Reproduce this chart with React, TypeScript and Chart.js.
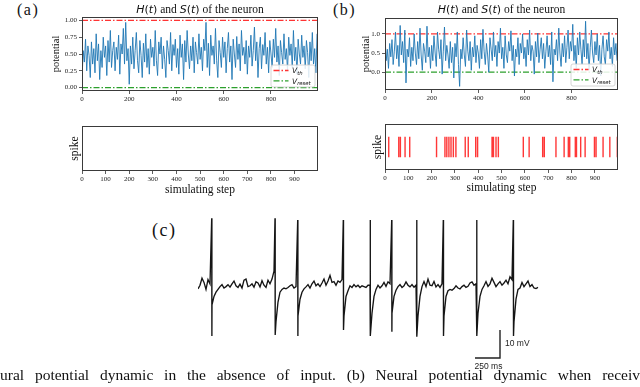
import React, { useEffect, useRef } from "react";
import { Chart, registerables } from "chart.js";
Chart.register(...registerables);

const SERIF = '"Liberation Serif", "Times New Roman", serif';
const MATH = '"DejaVu Sans"';

// ---- data ----
const STEP = 5; // simulating steps between stored samples
const potentialA = [
  0.12, 0.55, 0.38, 0.72, 0.25, 0.62, 0.48, 0.15, 0.68, 0.35, 0.58, 0.22, 0.80, 0.40, 0.65, 0.12, 0.55, 0.30, 0.75, 0.45,
  0.62, 0.18, 0.70, 0.38, 0.85, 0.30, 0.55, 0.68, 0.25, 0.60, 0.42, 0.78, 0.20, 0.65, 0.50, 0.88, 0.35, 0.97, 0.40, 0.58,
  0.05, 0.62, 0.35, 0.75, 0.28, 0.55, 0.82, 0.40, 0.22, 0.70, 0.48, 0.15, 0.66, 0.38, 0.80, 0.30, 0.58, 0.20, 0.72, 0.45,
  0.60, 0.32, 0.85, 0.40, 0.18, 0.68, 0.50, 0.75, 0.28, 0.62, 0.42, 0.15, 0.70, 0.55, 0.35, 0.82, 0.25, 0.64, 0.48, 0.72,
  0.30, 0.58, 0.20, 0.78, 0.45, 0.65, 0.12, 0.70, 0.38, 0.85, 0.50, 0.28, 0.62, 0.40, 0.75, 0.22, 0.68, 0.52, 0.35, 0.80,
  0.42, 0.60, 0.25, 0.72, 0.55, 0.97, 0.30, 0.66, 0.18, 0.78, 0.48, 0.62, 0.35, 0.88, 0.40, 0.15, 0.70, 0.52, 0.30, 0.75,
  0.45, 0.68, 0.22, 0.58, 0.82, 0.38, 0.62, 0.12, 0.72, 0.50, 0.30, 0.76, 0.42, 0.65, 0.25, 0.85, 0.48, 0.60, 0.35, 0.70,
  0.20, 0.62, 0.45, 0.78, 0.32, 0.55, 0.90, 0.40, 0.68, 0.15, 0.58, 0.75, 0.28, 0.64, 0.48, 0.82, 0.35, 0.60, 0.22, 0.70,
  0.50, 0.30, 0.72, 0.45, 0.88, 0.38, 0.62, 0.18, 0.70, 0.52, 0.35, 0.80, 0.42, 0.58, 0.25, 0.75, 0.48, 0.65, 0.30, 0.85,
  0.40, 0.60, 0.20, 0.72, 0.50, 0.35, 0.78, 0.45, 0.62, 0.28, 0.70, 0.52, 0.15, 0.68, 0.40, 0.82, 0.35, 0.58, 0.22, 0.80,
];
const potentialB = [
  0.95, 0.30, 0.60, 0.10, 0.75, 0.40, 0.85, 0.20, 0.55, 1.05, 0.35, 0.70, 0.15, 1.22, 0.45, 0.80, 0.25, 1.10, -0.28, 0.60,
  0.40, 0.90, 0.15, 0.65, 0.30, 1.00, 0.50, 0.20, 0.80, 0.35, 1.15, 0.45, 0.05, 0.75, 0.55, 0.25, 1.20, 0.40, 0.65, 0.10,
  0.70, 0.30, 0.95, 0.50, 0.15, 1.05, 0.60, 0.35, 0.85, -0.05, 0.55, 1.18, 0.30, 0.70, 0.45, 0.10, 0.80, 0.25, 0.65, -0.15,
  0.75, 0.40, 1.05, 0.20, -0.37, 0.60, 0.35, 0.90, 0.45, 0.15, 1.10, 0.55, 0.30, 0.80, 0.05, 0.65, 0.40, 0.95, 0.25, 0.70,
  0.50, 0.10, 0.85, 0.35, 1.12, 0.55, 0.20, 0.75, 0.45, 0.00, 0.90, 0.60, 0.30, 1.05, 0.40, 0.70, 0.15, 0.80, 0.50, 1.15,
  0.35, 0.65, 0.10, 0.95, 0.45, 0.25, 0.80, 0.55, 1.08, 0.30, 0.70, -0.10, 0.60, 0.40, 0.90, 0.20, 0.75, 0.50, 1.00, 0.35,
  0.65, 0.15, 0.85, 0.45, 1.10, 0.30, 0.70, 0.55, -0.05, 0.80, 0.40, 1.02, 0.25, 0.60, 0.90, 0.35, 0.75, 0.10, 0.55, 0.95,
  0.40, 0.70, 0.20, 1.05, -0.25, 0.60, 0.45, 0.85, 0.30, 1.15, 0.50, 0.15, 0.75, 0.40, 0.95, 0.25, 0.65, 1.10, 0.35, 0.80,
  0.55, 1.25, 0.30, 0.70, 0.10, 0.90, 0.45, 1.05, 0.60, 0.20, 0.85, 0.40, 1.33, 0.35, 0.75, 0.05, 0.65, 1.10, 0.50, 0.25,
  0.80, 0.45, 1.00, 0.30, 0.70, -0.10, 0.60, 0.95, 0.40, 0.20, 0.85, 0.55, 1.05, 0.35, 0.65, 0.15, 0.90, 0.45, 0.75, 0.30,
];
const V_TH = 1.0;
const V_RESET = 0.0;
const spikeStepsA: number[] = [];
const spikeStepsB = [
  16, 59, 66, 86, 106, 221, 257, 265, 274, 283, 293, 304, 344, 357, 389, 397, 459, 465, 476, 486,
  593, 618, 676, 683, 733, 768, 786, 792, 816, 821, 839, 858, 898, 905, 935, 964, 996,
];
const yTicksA = [0, 0.25, 0.5, 0.75, 1.0];
const yTicksB = [0, 0.5, 1.0];
const xTicksPotential = [0, 200, 400, 600, 800];
const xTicksSpike = [0, 100, 200, 300, 400, 500, 600, 700, 800, 900];

// recording (c): baseline samples every 20 ms (mV), spikes
const TRACE_DT = 20;
const traceBaseline = [
  -0.3, 1.0, 3.5, 2.0, -0.5, 3.0, 1.5, -6, -3, -1.5,
  -0.5, 0.5, 1.2, 0, 0.5, 1.2, 0.3, 1.5, 2.5, 0.8,
  0.2, 1.4, 0, 2.8, 3.2, 0.5, 0.8, 1.5, 0.3, 2.2,
  1.8, 0.4, 2.6, 1.0, 0.2, 2.8, 1.5, 3.2, 6.0, -12,
  -5, -1.5, -0.5, 0, -0.3, 0.2, 0.8, 1.2, 0.0, 0.5,
  -10, -4, -1.5, -0.3, 0.4, 1.2, 0, 1.5, 2.5, 0.8,
  1.5, 0.5, 1.8, 3.2, 1.0, 2.5, 4.5, 2.0, 2.3, 1.0,
  2.5, 2.0, 3.0, -10, -3, -1, 0.8, 0.2, 1.2, 0.4,
  1.0, 0.2, 0.8, 0.5, 0.2, 1.0, 1.0, -9, -3, -0.5,
  1.0, 0, 0.8, 2.0, 0.6, 2.2, 1.5, -9, -3, -0.8,
  0.5, 1.2, 0.2, 0.8, 2.2, 1.0, 0.4, 1.2, 0.3, 1.0,
  -10, -3, 0.5, 2.3, 0.5, 3.2, 1.0, 0.8, 2.3, 0.4,
  1.2, 0.2, 1.5, -10, -3, -1, -0.5, -0.8, -0.2, 0.8,
  0, -0.3, 0.5, 1.0, 0.2, 0.6, 1.8, 2.2, 1.0, 1.5,
  -9, -3, -0.5, 0.8, 2.3, 0.6, 1.5, 3.5, 2.0, 0.5,
  1.5, 2.3, 1.0, 1.8, 2.8, 1.5, 4.0, 3.0, -12, -4,
  -0.5, 0, 2.0, 0.5, 1.5, 2.5, 0.5, 1.2, 0.0, -0.2,
  0.2,
];
const spikeTimes = [137, 770, 997, 1453, 1722, 1937, 2187, 2453, 2787, 3153];
const spikePeaks = [24.9, 24.9, 24.3, 24.3, 24.3, 24.3, 24.3, 24.3, 24.3, 24.3];
const spikeTroughs = [-17.1, -16.8, -17.1, -15.0, -17.1, -15.6, -17.4, -17.1, -17.1, -17.1];
const SCALE_MS = 250;
const SCALE_MV = 10;
const SCALE_END_MS = 3020;
const SCALE_BOTTOM_MV = -25;

// ---- plugins ----
const framePlugin = {
  id: "frame",
  afterDatasetsDraw(chart: any) {
    const { ctx, chartArea: a } = chart;
    ctx.save();
    ctx.strokeStyle = "#3a3a3a";
    ctx.lineWidth = 1;
    ctx.strokeRect(Math.round(a.left) + 0.5, Math.round(a.top) + 0.5, Math.round(a.right - a.left) - 1, Math.round(a.bottom - a.top) - 1);
    ctx.restore();
  },
};

const titlePlugin = {
  id: "mixedTitle",
  afterDraw(chart: any, _args: any, opts: any) {
    if (!opts || !opts.parts) return;
    const ctx = chart.ctx;
    ctx.save();
    let total = 0;
    for (const p of opts.parts) {
      ctx.font = p.font;
      total += ctx.measureText(p.text).width;
    }
    let x = (chart.chartArea.left + chart.chartArea.right) / 2 - total / 2;
    ctx.fillStyle = "#111";
    ctx.textBaseline = "alphabetic";
    for (const p of opts.parts) {
      ctx.font = p.font;
      ctx.fillText(p.text, x, opts.y);
      x += ctx.measureText(p.text).width;
    }
    ctx.restore();
  },
};

const legendPlugin = {
  id: "innerLegend",
  afterDatasetsDraw(chart: any, _args: any, opts: any) {
    if (!opts || !opts.show) return;
    const { ctx, chartArea: a } = chart;
    const w = 44, h = 22;
    const x0 = a.right - 3 - w, y0 = a.bottom - 4 - h;
    ctx.save();
    ctx.beginPath();
    ctx.roundRect(x0, y0, w, h, 2);
    ctx.fillStyle = "rgba(255,255,255,0.85)";
    ctx.fill();
    ctx.strokeStyle = "#cccccc";
    ctx.lineWidth = 0.8;
    ctx.stroke();
    const entries = chart.data.datasets.filter((d: any) => d.label && d.label.includes("_"));
    entries.forEach((d: any, i: number) => {
      const y = y0 + 5.5 + i * 10.3;
      ctx.beginPath();
      ctx.setLineDash(d.borderDash || []);
      ctx.strokeStyle = d.borderColor;
      ctx.lineWidth = d.borderWidth;
      ctx.moveTo(x0 + 2.5, y);
      ctx.lineTo(x0 + 17.5, y);
      ctx.stroke();
      ctx.setLineDash([]);
      const [main, sub] = d.label.split("_");
      ctx.fillStyle = "#111";
      ctx.textBaseline = "alphabetic";
      ctx.font = `italic 7.5px ${MATH}`;
      ctx.fillText(main, x0 + 21, y + 2.8);
      const mw = ctx.measureText(main).width;
      ctx.font = `italic 5.3px ${MATH}`;
      ctx.fillText(sub, x0 + 21 + mw, y + 4.3);
    });
    ctx.restore();
  },
};

const scaleBarTextPlugin = {
  id: "scaleBarText",
  afterDraw(chart: any) {
    const { ctx } = chart;
    const xs = chart.scales.x, ys = chart.scales.y;
    ctx.save();
    ctx.fillStyle = "#222";
    ctx.font = '8.5px "Liberation Sans", Arial, sans-serif';
    ctx.textBaseline = "middle";
    ctx.textAlign = "left";
    ctx.fillText(`${SCALE_MV} mV`, xs.getPixelForValue(SCALE_END_MS) + 5, ys.getPixelForValue(SCALE_BOTTOM_MV + SCALE_MV / 2));
    ctx.textAlign = "center";
    ctx.fillText(`${SCALE_MS} ms`, xs.getPixelForValue(SCALE_END_MS - SCALE_MS / 2) + 1, ys.getPixelForValue(SCALE_BOTTOM_MV) + 8.5);
    ctx.restore();
  },
};

// ---- config builders ----
const tickGrid = { display: true, drawOnChartArea: false, drawTicks: true, tickLength: 3, color: "#333", lineWidth: 0.8 };

function titleParts() {
  const it = `italic 11px ${MATH}`;
  const up = `11px ${MATH}`;
  const rm = `11.5px ${SERIF}`;
  return [
    { text: "H", font: it }, { text: "(", font: up }, { text: "t", font: it }, { text: ")", font: up },
    { text: " and ", font: rm },
    { text: "S", font: it }, { text: "(", font: up }, { text: "t", font: it }, { text: ")", font: up },
    { text: " of the neuron", font: rm },
  ];
}

function potentialConfig(p: any): any {
  const series = p.values.map((v: number, i: number) => ({ x: i * STEP, y: v }));
  return {
    type: "line",
    data: {
      datasets: [
        { label: "H", data: series, borderColor: "#1f77b4", borderWidth: 0.9, pointRadius: 0, tension: 0 },
        { label: "V_th", data: [{ x: 0, y: V_TH }, { x: 999, y: V_TH }], borderColor: "rgba(255,40,40,0.95)", borderWidth: 1.3, borderDash: [6, 2, 1.5, 2], pointRadius: 0 },
        { label: "V_reset", data: [{ x: 0, y: V_RESET }, { x: 999, y: V_RESET }], borderColor: "#2ca02c", borderWidth: 1.3, borderDash: [6, 2, 1.5, 2], pointRadius: 0 },
      ],
    },
    options: {
      responsive: false,
      animation: false,
      devicePixelRatio: 1,
      events: [],
      layout: { padding: { top: p.padTop, right: p.padRight, left: 0, bottom: 0 } },
      plugins: {
        legend: { display: false },
        tooltip: { enabled: false },
        mixedTitle: { parts: titleParts(), y: 13 },
        innerLegend: { show: true },
      },
      scales: {
        x: {
          type: "linear", min: 0, max: 999,
          afterBuildTicks: (s: any) => { s.ticks = xTicksPotential.map((v) => ({ value: v })); },
          afterFit: (s: any) => { s.height = p.xHeight; },
          ticks: { font: { family: SERIF, size: 7 }, color: "#222", padding: 1, maxRotation: 0, autoSkip: false, callback: (v: any) => String(v) },
          grid: tickGrid,
          border: { display: false },
        },
        y: {
          type: "linear", min: p.yMin, max: p.yMax,
          afterBuildTicks: (s: any) => { s.ticks = p.yTicks.map((v: number) => ({ value: v })); },
          afterFit: (s: any) => { s.width = p.yWidth; },
          ticks: { font: { family: SERIF, size: 7 }, color: "#222", padding: 2, autoSkip: false, callback: (v: any) => Number(v).toFixed(p.digits) },
          grid: tickGrid,
          border: { display: false },
          title: { display: true, text: "potential", color: "#111", font: { family: SERIF, size: 10.5 }, padding: { top: p.titlePad, bottom: 0 } },
        },
      },
    },
    plugins: [framePlugin, titlePlugin, legendPlugin],
  };
}

function spikeConfig(p: any): any {
  const pts: any[] = [];
  p.steps.forEach((s: number) => {
    pts.push({ x: s, y: 0.55 }, { x: s, y: 1.45 }, { x: s, y: null });
  });
  return {
    type: "line",
    data: {
      datasets: [
        { label: "spike", data: pts, borderColor: "rgba(255,20,20,0.85)", borderWidth: 1.4, pointRadius: 0, spanGaps: false, tension: 0 },
      ],
    },
    options: {
      responsive: false,
      animation: false,
      devicePixelRatio: 1,
      events: [],
      layout: { padding: { top: p.padTop, right: p.padRight, left: 0, bottom: 0 } },
      plugins: { legend: { display: false }, tooltip: { enabled: false } },
      scales: {
        x: {
          type: "linear", min: 0, max: 999,
          afterBuildTicks: (s: any) => { s.ticks = xTicksSpike.map((v) => ({ value: v })); },
          afterFit: (s: any) => { s.height = p.xHeight; },
          ticks: { font: { family: SERIF, size: 7 }, color: "#222", padding: 1, maxRotation: 0, autoSkip: false, callback: (v: any) => String(v) },
          grid: tickGrid,
          border: { display: false },
          title: { display: true, text: "simulating step", color: "#111", font: { family: SERIF, size: 11.5 }, padding: { top: 0, bottom: p.xTitlePad } },
        },
        y: {
          type: "linear", min: 0, max: 2,
          afterFit: (s: any) => { s.width = p.yWidth; },
          ticks: { display: false },
          grid: { display: false },
          border: { display: false },
          title: { display: true, text: "spike", color: "#111", font: { family: SERIF, size: 11.5 }, padding: { top: p.titlePad, bottom: 0 } },
        },
      },
    },
    plugins: [framePlugin],
  };
}

function traceConfig(): any {
  const pts: any[] = traceBaseline.map((v, k) => ({ x: k * TRACE_DT, y: v }));
  spikeTimes.forEach((t, i) => {
    pts.push({ x: t, y: spikePeaks[i] }, { x: t + 2, y: spikeTroughs[i] });
  });
  pts.sort((a, b) => a.x - b.x);
  const bar = [
    { x: SCALE_END_MS - SCALE_MS, y: SCALE_BOTTOM_MV },
    { x: SCALE_END_MS, y: SCALE_BOTTOM_MV },
    { x: SCALE_END_MS, y: SCALE_BOTTOM_MV + SCALE_MV },
  ];
  return {
    type: "line",
    data: {
      datasets: [
        { label: "recording", data: pts, borderColor: "#151515", borderWidth: 1.35, pointRadius: 0, tension: 0, clip: false },
        { label: "scale", data: bar, borderColor: "#222", borderWidth: 1.4, pointRadius: 0, tension: 0, clip: false },
      ],
    },
    options: {
      responsive: false,
      animation: false,
      devicePixelRatio: 1,
      events: [],
      layout: { padding: 0 },
      plugins: { legend: { display: false }, tooltip: { enabled: false } },
      scales: {
        x: { type: "linear", display: false, min: 0, max: 3420 },
        y: { type: "linear", display: false, min: -30, max: 27.86 },
      },
    },
    plugins: [scaleBarTextPlugin],
  };
}

function ChartBox(props: { left: number; top: number; width: number; height: number; make: () => any }) {
  const ref = useRef<HTMLCanvasElement>(null);
  useEffect(() => {
    const chart = new Chart(ref.current as HTMLCanvasElement, props.make());
    return () => chart.destroy();
  }, []);
  return (
    <canvas
      ref={ref}
      width={props.width}
      height={props.height}
      style={{ position: "absolute", left: props.left, top: props.top, width: props.width, height: props.height }}
    />
  );
}

const panelLabel = (left: number, top: number, size: number): React.CSSProperties => ({
  position: "absolute", left, top, fontFamily: SERIF, fontSize: size, lineHeight: `${size}px`, color: "#111", letterSpacing: 1.5,
});

export default function App() {
  return (
    <div style={{ position: "fixed", left: 0, top: 0, width: 640, height: 387, overflow: "hidden", background: "#fff" }}>
      <div style={panelLabel(17, 2, 16)}>(a)</div>
      <div style={panelLabel(333, 2, 16)}>(b)</div>
      <div style={panelLabel(152, 221, 18)}>(c)</div>
      <ChartBox left={44} top={0} width={281} height={105}
        make={() => potentialConfig({ values: potentialA, yMin: -0.05, yMax: 1.05, yTicks: yTicksA, digits: 2, yWidth: 38, titlePad: 5.7, padTop: 17, padRight: 7, xHeight: 14 })} />
      <ChartBox left={352} top={0} width={273} height={105}
        make={() => potentialConfig({ values: potentialB, yMin: -0.465, yMax: 1.415, yTicks: yTicksB, digits: 1, yWidth: 33, titlePad: 8.2, padTop: 18, padRight: 7, xHeight: 15 })} />
      <ChartBox left={60} top={115} width={265} height={85}
        make={() => spikeConfig({ steps: spikeStepsA, yWidth: 22, titlePad: 8.1, padTop: 11, padRight: 7, xHeight: 29, xTitlePad: 3.1 })} />
      <ChartBox left={360} top={114} width={265} height={86}
        make={() => spikeConfig({ steps: spikeStepsB, yWidth: 25, titlePad: 11.1, padTop: 10, padRight: 7, xHeight: 30, xTitlePad: 5.1 })} />
      <ChartBox left={198} top={210} width={342} height={162} make={traceConfig} />
      <div style={{ position: "absolute", left: 0, top: 366, width: 640, fontFamily: SERIF, fontSize: 15.5, lineHeight: "17px", color: "#111", textAlign: "justify", textAlignLast: "justify" as any }}>
        ural potential dynamic in the absence of input. (b) Neural potential dynamic when receiv
      </div>
    </div>
  );
}
